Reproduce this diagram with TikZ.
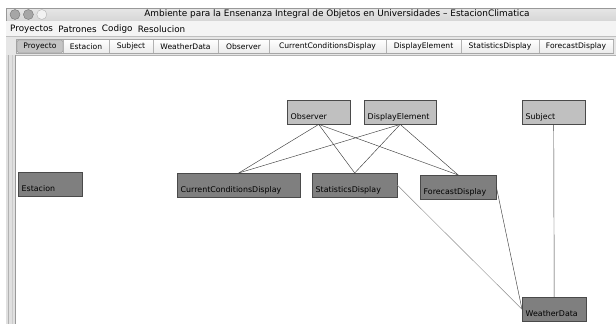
\documentclass[tikz,border=0pt]{standalone}
\usepackage{fontspec}
\setmainfont{DejaVu Sans}
\usetikzlibrary{positioning}
\definecolor{clslight}{HTML}{C0C0C0}
\definecolor{clsdark}{HTML}{7F7F7F}
\definecolor{clsedge}{HTML}{4A4A4A}
\definecolor{titlegrey}{HTML}{D6D6D6}
\definecolor{menugrey}{HTML}{F4F4F4}
\definecolor{tabgrey}{HTML}{E6E6E6}
\definecolor{tabsel}{HTML}{C4C4C4}
\tikzset{
  x=1pt, y=-1pt,
  cls/.style={rectangle, draw=clsedge, anchor=north west, align=left,
              inner xsep=3.5pt, inner ysep=0pt, text height=19pt, text depth=5pt,
              font=\fontsize{7.9}{8}\selectfont},
  clsl/.style={cls, fill=clslight},
  clsd/.style={cls, fill=clsdark},
  link/.style={draw=black!75, line width=0.45pt},
  linkg/.style={link, draw=black!45},
  menuitem/.style={inner sep=0pt, anchor=west, font=\fontsize{8.8}{10}\selectfont},
  tab/.style={inner sep=0pt, font=\fontsize{7.6}{8}\selectfont},
  light/.style={circle, draw=black!55, fill=black!35, minimum size=10pt, inner sep=0pt},
}

\begin{document}
\begin{tikzpicture}
  \useasboundingbox (0,0) rectangle (616,324);
  \fill[white] (0,0) rectangle (616,324);

  % window chrome
  \shade[top color=titlegrey!60, bottom color=titlegrey] (6,8) rectangle (616,21);
  \draw[black!40] (6,324) -- (6,8) -- (616,8);
  \node[light] (red) at (15,14.5) {};
  \node[light, right=3pt of red] (amber) {};
  \node[light, right=3pt of amber, draw=black!30, fill=black!5] (green) {};
  \node[font=\fontsize{8.9}{10}\selectfont, inner sep=0pt] (title) at (337,14.5)
    {Ambiente para la Ensenanza Integral de Objetos en Universidades -- EstacionClimatica};

  \fill[menugrey] (6,21) rectangle (616,36.5);
  \draw[black!25] (6,36.5) -- (616,36.5);
  \node[menuitem] (mproy) at (10,29) {Proyectos};
  \node[menuitem, right=5pt of mproy] (mpatr) {Patrones};
  \node[menuitem, right=5pt of mpatr] (mcod) {Codigo};
  \node[menuitem, right=5pt of mcod] (mres) {Resolucion};

  % tabs
  \fill[tabgrey] (6,37) rectangle (616,55);
  \draw[black!30] (6,55) -- (616,55);
  \shade[top color=white, bottom color=black!8] (16,39.5) rectangle (613,53);
  \draw[black!35] (16,39.5) rectangle (613,53);
  \fill[tabsel, rounded corners=2pt] (17,40) rectangle (63,52.5);
  \draw[black!45, rounded corners=2pt] (17,40) rectangle (63,52.5);
  \foreach \t/\xa/\xb [count=\i] in {Proyecto/17/63, Estacion/63/109, Subject/109/153,
      WeatherData/153/218, Observer/218/269, CurrentConditionsDisplay/269/386,
      DisplayElement/386/461, StatisticsDisplay/461/539, ForecastDisplay/539/613}{
    \node[tab] (tab\i) at ({(\xa+\xb)/2},46.5) {\t};
    \draw[black!30] (\xb,39.5) -- (\xb,53);
  }

  % canvas
  \fill[black!12] (6,55) rectangle (15,324);
  \draw[black!30] (8,55) -- (8,324);
  \draw[black!20] (12,55) -- (12,324);
  \draw[black!40] (15,55) -- (15,324);

  % classes
  \node[clsl, text width=56pt] (obs) at (287,100) {Observer};
  \node[clsl, text width=65pt] (dispel) at (364,100) {DisplayElement};
  \node[clsl, text width=56pt] (subj) at (522,100) {Subject};
  \node[clsd, text width=57pt] (est) at (18,172) {Estacion};
  \node[clsd, text width=116pt] (ccd) at (177,173) {CurrentConditionsDisplay};
  \node[clsd, text width=78pt] (stats) at (312,173) {StatisticsDisplay};
  \node[clsd, text width=69pt] (fcast) at (420,175) {ForecastDisplay};
  \node[clsd, text width=57pt] (wdata) at (522,297) {WeatherData};

  % relations
  \foreach \a in {obs,dispel}{
    \foreach \b in {ccd,stats,fcast}{ \draw[link] (\a.south) -- (\b.north); }
  }
  \draw[link] (subj.south) -- (wdata.north);
  \draw[linkg] (stats.east) -- (wdata.west);
  \draw[link] (fcast.east) -- (wdata.west);
\end{tikzpicture}
\end{document}
